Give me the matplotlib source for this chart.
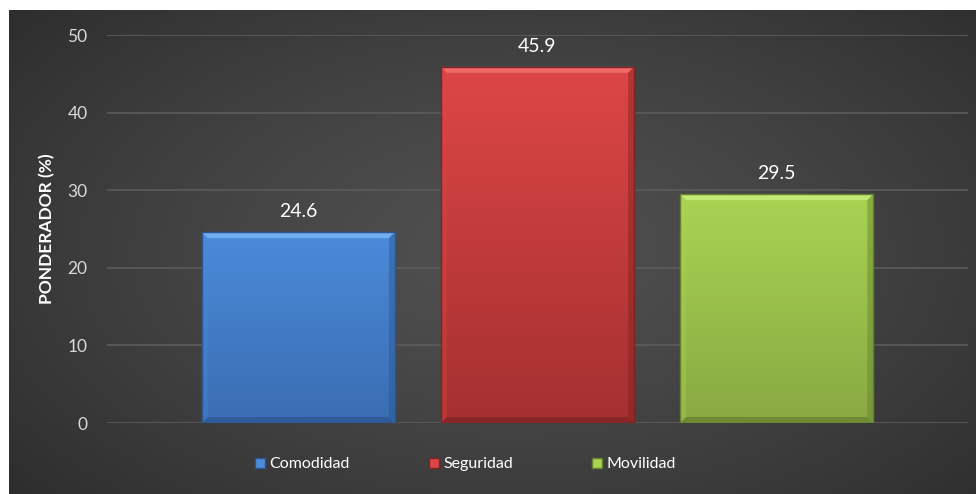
import numpy as np
import matplotlib
matplotlib.use("Agg")
import matplotlib.pyplot as plt
from matplotlib.patches import Polygon
from matplotlib.lines import Line2D
from matplotlib.colors import to_rgb

plt.rcParams['font.family'] = ['Lato', 'DejaVu Sans']

# Data
categories = ["Comodidad", "Seguridad", "Movilidad"]
values = [24.6, 45.9, 29.5]
y_ticks = [0, 10, 20, 30, 40, 50]
y_label = "PONDERADOR (%)"

# Styling
top_colors = ["#4b8bda", "#dd4646", "#a9d453"]
bottom_colors = ["#3a6db2", "#a53030", "#88a942"]
light_edges = ["#78b4f5", "#f57070", "#c8ec7c"]
dark_edges = ["#2c5590", "#7e2222", "#647f2e"]

W, H, DPI = 976, 494, 100
fig = plt.figure(figsize=(W / DPI, H / DPI), dpi=DPI, facecolor="white")

# Dark panel with a soft radial glow
bg = fig.add_axes([9 / W, 0, 1 - 9 / W, 1 - 10 / H])
bg.set_axis_off()
ny, nx = 300, 600
yy, xx = np.mgrid[0:1:ny * 1j, 0:1:nx * 1j]
r = np.sqrt(((xx - 0.52) / 0.75) ** 2 + ((yy - 0.5) / 0.85) ** 2)
r = np.clip(r, 0, 1)
c0, c1 = 0x50 / 255, 0x29 / 255
shade = c0 + (c1 - c0) * r ** 1.3
bg.imshow(np.dstack([shade] * 3), aspect="auto", extent=[0, 1, 0, 1],
          interpolation="bilinear")
bg.set_xlim(0, 1)
bg.set_ylim(0, 1)

ax = fig.add_axes([107 / W, 1 - 423 / H, (968 - 107) / W, (423 - 35) / H])
ax.set_facecolor("none")
x = np.arange(len(categories))
bar_w = 0.808
ax.set_xlim(-0.8, 2.8)
ax.set_ylim(0, 50)
ax.set_yticks(y_ticks)
ax.yaxis.grid(True, color="#5c5c5c", linewidth=1.2)
ax.set_axisbelow(True)
for s in ax.spines.values():
    s.set_visible(False)
ax.set_xticks([])
ax.tick_params(axis="y", length=0, pad=14, labelsize=12.5, labelcolor="#d9d9d9")
ax.set_ylabel(y_label, color="white", fontsize=12.5, fontweight="bold", labelpad=9)

bars = ax.bar(x, values, width=bar_w, color="none", edgecolor="none", zorder=3)

fig.canvas.draw()
inv = ax.transData.inverted()


def px_to_data(px, py):
    return inv.transform((px, py))


for i, rect in enumerate(bars):
    x0, y0 = rect.get_x(), rect.get_y()
    x1, y1 = x0 + rect.get_width(), y0 + rect.get_height()
    # vertical gradient fill
    t = np.linspace(0, 1, 256)[:, None]
    ct, cb = np.array(to_rgb(top_colors[i])), np.array(to_rgb(bottom_colors[i]))
    grad = ct[None, None, :] * (1 - t[:, :, None]) + cb[None, None, :] * t[:, :, None]
    im = ax.imshow(grad, aspect="auto", extent=[x0, x1, y0, y1], zorder=3,
                   interpolation="bilinear")
    im.set_clip_path(rect)
    # bevel edges built in pixel space
    (X0, Y0) = ax.transData.transform((x0, y0))
    (X1, Y1) = ax.transData.transform((x1, y1))
    b = 6
    top = [(X0, Y1), (X1, Y1), (X1 - b, Y1 - b), (X0 + b, Y1 - b)]
    bot = [(X0, Y0), (X1, Y0), (X1 - b, Y0 + b), (X0 + b, Y0 + b)]
    left = [(X0, Y0), (X0, Y1), (X0 + b, Y1 - b), (X0 + b, Y0 + b)]
    right = [(X1, Y0), (X1, Y1), (X1 - b, Y1 - b), (X1 - b, Y0 + b)]
    for poly, col, a in [(top, light_edges[i], 0.85), (bot, dark_edges[i], 0.7),
                         (left, top_colors[i], 0.35), (right, dark_edges[i], 0.45)]:
        pts = [px_to_data(*p) for p in poly]
        ax.add_patch(Polygon(pts, closed=True, facecolor=col, edgecolor="none",
                             alpha=a, zorder=4))
    # outline
    ax.add_patch(Polygon([px_to_data(*p) for p in [(X0, Y0), (X1, Y0), (X1, Y1), (X0, Y1)]],
                         closed=True, facecolor="none", edgecolor=dark_edges[i],
                         linewidth=1.0, zorder=5))
    ax.annotate(f"{values[i]:.1f}", xy=(rect.get_x() + rect.get_width() / 2, y1),
                xytext=(0, 8.5), textcoords="offset points", ha="center", va="bottom",
                color="white", fontsize=14, zorder=6)

handles = [Line2D([0], [0], marker="s", linestyle="none", markersize=7,
                  markerfacecolor=top_colors[i], markeredgecolor=dark_edges[i])
           for i in range(len(categories))]
leg = fig.legend(handles, categories, loc="center", bbox_to_anchor=(464 / W, 1 - 464 / H),
                 ncol=3, frameon=False, fontsize=11.5, labelcolor="white",
                 columnspacing=4.75, handletextpad=0.1, handlelength=1.0)

fig.savefig("out.png", dpi=DPI, facecolor="white")
